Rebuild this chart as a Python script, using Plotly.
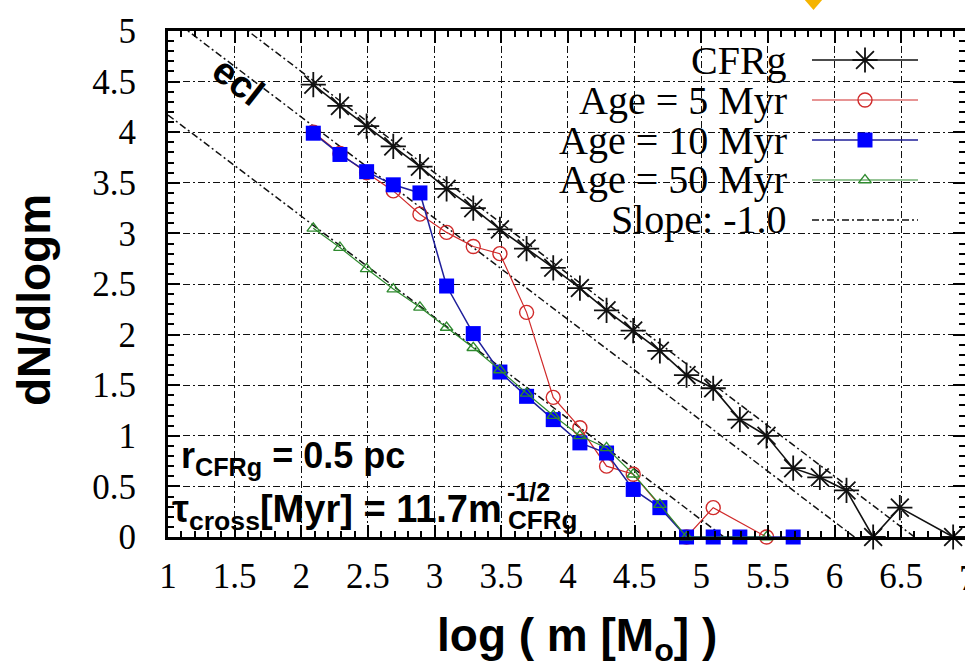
import plotly.graph_objects as go

# ---------------- data ----------------
cfrg_x = [2.09, 2.29, 2.49, 2.69, 2.89, 3.09, 3.29, 3.49, 3.69, 3.89, 4.09, 4.29,
          4.49, 4.69, 4.89, 5.09, 5.29, 5.49, 5.69, 5.89, 6.09, 6.29, 6.49, 6.89]
cfrg_y = [4.47, 4.26, 4.06, 3.86, 3.66, 3.44, 3.25, 3.04, 2.85, 2.66, 2.46, 2.24,
          2.04, 1.84, 1.60, 1.47, 1.16, 1.00, 0.68, 0.59, 0.46, 0.0, 0.29, 0.0]

age5_x = [2.09, 2.29, 2.49, 2.69, 2.89, 3.09, 3.29, 3.49, 3.69, 3.89, 4.09, 4.29,
          4.49, 4.89, 5.09, 5.49]
age5_y = [4.00, 3.79, 3.60, 3.42, 3.19, 3.01, 2.87, 2.80, 2.22, 1.38, 1.08, 0.70,
          0.62, 0.0, 0.29, 0.0]

age10_x = [2.09, 2.29, 2.49, 2.69, 2.89, 3.09, 3.29, 3.49, 3.69, 3.89, 4.09, 4.29,
           4.49, 4.69, 4.89, 5.09, 5.29, 5.69]
age10_y = [3.99, 3.78, 3.61, 3.48, 3.40, 2.48, 2.01, 1.63, 1.39, 1.16, 0.93, 0.83,
           0.47, 0.29, 0.0, 0.0, 0.0, 0.0]

age50_x = [2.09, 2.29, 2.49, 2.69, 2.89, 3.09, 3.29, 3.49, 3.69, 3.89, 4.09, 4.29,
           4.49, 4.69, 4.89, 5.49]
age50_y = [3.05, 2.86, 2.65, 2.45, 2.27, 2.07, 1.87, 1.65, 1.42, 1.20, 1.00, 0.88,
           0.62, 0.32, 0.0, 0.0]

# slope -1 reference lines: y = c - x
slope_consts = [6.60, 6.15, 5.17]

x_ticks = [1, 1.5, 2, 2.5, 3, 3.5, 4, 4.5, 5, 5.5, 6, 6.5]
x_tick_labels = ["1", "1.5", "2", "2.5", "3", "3.5", "4", "4.5", "5", "5.5", "6", "6.5"]
x_cut_tick = 7
y_ticks = [0, 0.5, 1, 1.5, 2, 2.5, 3, 3.5, 4, 4.5, 5]
y_tick_labels = ["0", "0.5", "1", "1.5", "2", "2.5", "3", "3.5", "4", "4.5", "5"]

legend_names = ["CFRg", "Age = 5 Myr", "Age = 10 Myr", "Age = 50 Myr", "Slope: -1.0"]

# ---------------- layout geometry ----------------
W, H = 965, 670
L_PX, R_PX, T_PX, B_PX = 168, 965, 31, 537
X_RANGE = [1, 1 + (R_PX - L_PX) / 133.3]
Y_RANGE = [0, 5]


def px(xp):
    return (xp - L_PX) / (R_PX - L_PX)


def py(yp):
    return (B_PX - yp) / (B_PX - T_PX)


def xdata_to_paper(v):
    return (v - X_RANGE[0]) / (X_RANGE[1] - X_RANGE[0])


BLACK = "#111111"
RED = "#d02a2a"
BLUE = "#0000ff"
BLUE_LINE = "#1f1f9a"
GREEN = "#2f8a2f"
DASH = "7px,3px,2px,3px"

styles = [
    dict(line=dict(color=BLACK, width=1.6),
         marker=dict(symbol="asterisk-open", size=21, color=BLACK,
                     line=dict(color=BLACK, width=1.8))),
    dict(line=dict(color=RED, width=1.2),
         marker=dict(symbol="circle-open", size=14, color=RED,
                     line=dict(color=RED, width=1.4))),
    dict(line=dict(color=BLUE_LINE, width=1.5),
         marker=dict(symbol="square", size=15, color=BLUE,
                     line=dict(color=BLUE, width=0))),
    dict(line=dict(color=GREEN, width=1.2),
         marker=dict(symbol="triangle-up-open", size=11, color=GREEN,
                     line=dict(color=GREEN, width=1.3))),
]

fig = go.Figure()

for c in slope_consts:
    fig.add_trace(go.Scatter(x=[X_RANGE[0], c], y=[c - X_RANGE[0], 0], mode="lines",
                             line=dict(color=BLACK, width=1.5, dash=DASH),
                             showlegend=False, hoverinfo="skip"))

series = [(cfrg_x, cfrg_y), (age5_x, age5_y), (age10_x, age10_y), (age50_x, age50_y)]
for (xs, ys), st, name in zip(series, styles, legend_names):
    fig.add_trace(go.Scatter(x=xs, y=ys, mode="lines+markers", name=name,
                             line=st["line"], marker=st["marker"],
                             showlegend=False, cliponaxis=False))

# ---------------- gnuplot-style key (text left, sample right) ----------------
KEY_ROWS = [60, 100, 140, 180, 220]
KEY_TEXT_RIGHT = 789
KEY_LINE = [812, 918]
KEY_MARK = 865
for i, name in enumerate(legend_names):
    yr = KEY_ROWS[i]
    if i < 4:
        st = styles[i]
        fig.add_trace(go.Scatter(x=KEY_LINE, y=[yr, yr], mode="lines", line=st["line"],
                                 xaxis="x2", yaxis="y2", showlegend=False, hoverinfo="skip"))
        fig.add_trace(go.Scatter(x=[KEY_MARK], y=[yr], mode="markers", marker=st["marker"],
                                 xaxis="x2", yaxis="y2", showlegend=False, hoverinfo="skip"))
    else:
        fig.add_trace(go.Scatter(x=KEY_LINE, y=[yr, yr], mode="lines",
                                 line=dict(color=BLACK, width=1.5, dash=DASH),
                                 xaxis="x2", yaxis="y2", showlegend=False, hoverinfo="skip"))

annotations = []
SERIF = "Liberation Serif"
SANS = "Liberation Sans"
for i, name in enumerate(legend_names):
    annotations.append(dict(x=px(KEY_TEXT_RIGHT), y=py(KEY_ROWS[i]), xref="paper", yref="paper",
                            text=name, showarrow=False, xanchor="right", yanchor="middle",
                            font=dict(family=SERIF, size=40, color="black")))

# cut-off "7" tick label at the right edge
annotations.append(dict(x=xdata_to_paper(x_cut_tick), y=py(578), xref="paper", yref="paper",
                        text="7", showarrow=False, xanchor="center", yanchor="middle",
                        font=dict(family=SERIF, size=35, color="black")))

# ecl label
annotations.append(dict(x=px(238), y=py(81), xref="paper", yref="paper",
                        text="<b>ecl</b>", showarrow=False, textangle=38,
                        xanchor="center", yanchor="middle",
                        font=dict(family=SANS, size=38, color="black")))

# inner annotations
annotations.append(dict(x=px(179), y=py(458), xref="paper", yref="paper",
                        text="<b>r<sub>CFRg</sub> = 0.5 pc</b>", showarrow=False,
                        xanchor="left", yanchor="middle",
                        font=dict(family=SANS, size=36, color="black")))
annotations.append(dict(x=px(170), y=py(512), xref="paper", yref="paper",
                        text="<b>τ<sub>cross</sub>[Myr] = 11.7m</b>", showarrow=False,
                        xanchor="left", yanchor="middle",
                        font=dict(family=SANS, size=38, color="black")))
annotations.append(dict(x=px(505), y=py(492), xref="paper", yref="paper",
                        text="<b>-1/2</b>", showarrow=False, xanchor="left", yanchor="middle",
                        font=dict(family=SANS, size=25, color="black")))
annotations.append(dict(x=px(506), y=py(520), xref="paper", yref="paper",
                        text="<b>CFRg</b>", showarrow=False, xanchor="left", yanchor="middle",
                        font=dict(family=SANS, size=26, color="black")))

# axis titles
annotations.append(dict(x=px(34), y=py(300), xref="paper", yref="paper",
                        text="<b>dN/dlogm</b>", showarrow=False, textangle=-90,
                        xanchor="center", yanchor="middle",
                        font=dict(family=SANS, size=46, color="black")))
annotations.append(dict(x=px(577), y=py(638), xref="paper", yref="paper",
                        text="<b>log ( m [M<sub>o</sub>] )</b>", showarrow=False,
                        xanchor="center", yanchor="middle",
                        font=dict(family=SANS, size=46, color="black")))

# small yellow marker at the top (cut off)
shapes = [dict(type="path", xref="paper", yref="paper",
               path="M {:.4f} {:.4f} L {:.4f} {:.4f} L {:.4f} {:.4f} Z".format(
                   px(804), py(-1), px(823), py(-1), px(813.5), py(10)),
               fillcolor="#f5b400", line=dict(width=0))]

axis_common = dict(showline=True, linewidth=3, linecolor="black", mirror="allticks",
                   ticks="inside", ticklen=12, tickwidth=2, tickcolor="black",
                   showgrid=True, gridcolor=BLACK, gridwidth=1.3, griddash=DASH,
                   zeroline=False,
                   tickfont=dict(family=SERIF, size=35, color="black"),
                   minor=dict(ticks="inside", ticklen=6, tickwidth=1.5, tickcolor="black",
                              dtick=0.1, showgrid=False))

fig.update_layout(
    width=W, height=H,
    margin=dict(l=L_PX, r=W - R_PX, t=T_PX, b=H - B_PX, pad=0, autoexpand=False),
    paper_bgcolor="white", plot_bgcolor="white",
    showlegend=False,
    xaxis=dict(range=X_RANGE, tickvals=x_ticks, ticktext=x_tick_labels,
               ticklabelstandoff=6, automargin=False, **axis_common),
    yaxis=dict(range=Y_RANGE, tickvals=y_ticks, ticktext=y_tick_labels,
               ticklabelstandoff=22, automargin=False, **axis_common),
    xaxis2=dict(range=[L_PX, R_PX], overlaying="x", anchor="y2", visible=False),
    yaxis2=dict(range=[B_PX, T_PX], overlaying="y", anchor="x2", visible=False),
    annotations=annotations,
    shapes=shapes,
)

fig.write_html("out.html",
               config={"displayModeBar": False},
               post_script="document.body.style.margin='0';"
                           "document.body.style.overflow='hidden';")
